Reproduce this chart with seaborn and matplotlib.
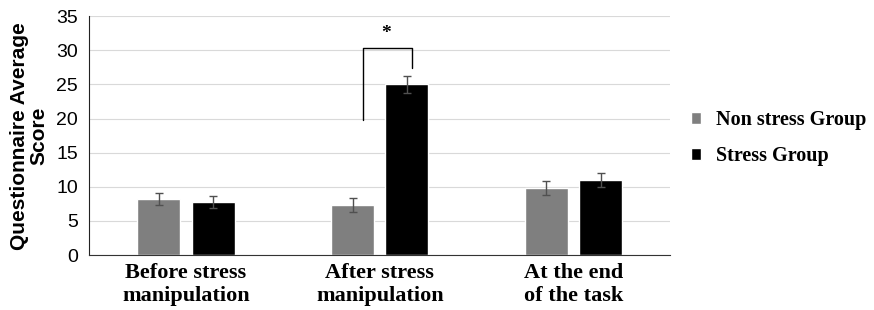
import numpy as np
import pandas as pd
import matplotlib
matplotlib.use("Agg")
import matplotlib.pyplot as plt
import seaborn as sns

# data
phases = ["Before stress\nmanipulation", "After stress\nmanipulation", "At the end\nof the task"]
groups = ["Non stress Group", "Stress Group"]
non_stress = [8.2, 7.3, 9.8]
stress = [7.8, 25.0, 11.0]
non_stress_err = [0.9, 1.0, 1.0]
stress_err = [0.9, 1.2, 1.0]

df = pd.DataFrame({
    "phase": phases * 2,
    "group": [groups[0]] * 3 + [groups[1]] * 3,
    "score": non_stress + stress,
    "err": non_stress_err + stress_err,
})

sns.set_style("white")
plt.rcParams["text.color"] = "black"
plt.rcParams["axes.labelcolor"] = "black"
plt.rcParams["xtick.color"] = "black"
plt.rcParams["ytick.color"] = "black"
fig = plt.figure(figsize=(8.74, 3.1), dpi=100)
ax = fig.add_axes([0.102, 0.177, 0.665, 0.771])

palette = {groups[0]: "#7f7f7f", groups[1]: "#000000"}
sns.barplot(data=df, x="phase", y="score", hue="group", palette=palette,
            width=0.56, gap=0.21, errorbar=None, ax=ax, zorder=2, legend=True)

# error bars placed at the bar centres seaborn produced
for cont, g in zip(ax.containers, groups):
    sub = df[df["group"] == g]
    xs = [p.get_x() + p.get_width() / 2 for p in cont.patches]
    ax.errorbar(xs, sub["score"], yerr=sub["err"], fmt="none",
                ecolor="#505050", elinewidth=1, capsize=3, capthick=1, zorder=3)

# significance bracket between groups after stress manipulation
ax.plot([0.915, 0.915, 1.165, 1.165], [19.8, 30.3, 30.3, 27.4], color="black", lw=1, zorder=4)
ax.text(1.03, 31.2, "*", ha="center", va="bottom", fontsize=14, fontweight="bold",
        family="Liberation Serif")

ax.set_ylim(0, 35)
ax.set_xlim(-0.5, 2.5)
ax.set_yticks(range(0, 36, 5))
ax.yaxis.grid(True, color="#d9d9d9", lw=0.8)
ax.set_axisbelow(True)
for s in ["top", "right"]:
    ax.spines[s].set_visible(False)
ax.spines["left"].set_color("#222222")
ax.spines["bottom"].set_color("#333333")
ax.tick_params(axis="both", length=0)
ax.tick_params(axis="y", labelsize=14, pad=8)
for lbl in ax.get_yticklabels():
    lbl.set_family("Liberation Sans")
ax.set_xticks(range(3))
ax.set_xticklabels(phases, family="Liberation Serif", fontweight="bold", fontsize=16,
                   linespacing=1.15)
ax.tick_params(axis="x", pad=6)
ax.set_xlabel("")
ax.set_ylabel("Questionnaire Average\nScore", family="Liberation Sans", fontweight="bold",
              fontsize=15, linespacing=1.0, labelpad=6)

leg = ax.legend(loc="center left", bbox_to_anchor=(1.005, 0.49), frameon=False,
                prop={"family": "Liberation Serif", "weight": "bold", "size": 14.5},
                handlelength=0.5, handleheight=0.5, handletextpad=0.7, labelspacing=0.8)

fig.savefig("out.png", dpi=100)
